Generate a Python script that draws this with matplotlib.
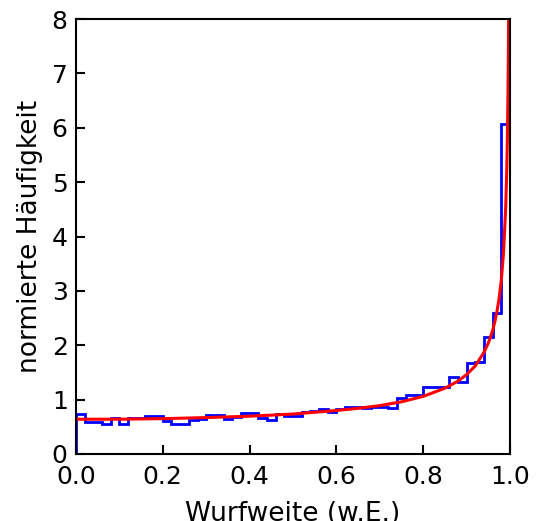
import numpy as np
import matplotlib
matplotlib.use("Agg")
import matplotlib.pyplot as plt

# histogram (normalised density), 50 bins on [0, 1]
bin_edges = np.linspace(0.0, 1.0, 51)
density = [0.73, 0.59, 0.59, 0.56, 0.67, 0.55, 0.66, 0.66, 0.70, 0.70,
           0.61, 0.55, 0.55, 0.62, 0.64, 0.71, 0.71, 0.64, 0.68, 0.76,
           0.76, 0.67, 0.63, 0.74, 0.69, 0.69, 0.77, 0.79, 0.83, 0.77,
           0.83, 0.86, 0.86, 0.85, 0.87, 0.87, 0.84, 1.03, 1.08, 1.08,
           1.23, 1.23, 1.24, 1.41, 1.32, 1.68, 1.70, 2.16, 2.60, 6.06]

# red curve, points
curve_x = [0.0, 0.1, 0.2, 0.3, 0.4, 0.5, 0.6, 0.65, 0.7, 0.75, 0.8, 0.85,
           0.88, 0.9, 0.92, 0.94, 0.95, 0.955, 0.96, 0.965, 0.97, 0.975,
           0.98, 0.985, 0.99, 0.9925, 0.994, 0.995, 0.996, 0.997]
curve_y = [0.64, 0.64, 0.65, 0.67, 0.695, 0.735, 0.80, 0.84, 0.89, 0.96,
           1.06, 1.21, 1.34, 1.46, 1.62, 1.87, 2.04, 2.15, 2.27, 2.43,
           2.62, 2.87, 3.20, 3.69, 4.51, 5.21, 5.82, 6.38, 7.12, 8.22]

fig = plt.figure(figsize=(5.44, 5.21), dpi=100)
ax = fig.add_axes([0.1397, 0.1286, 0.7978, 0.8349])

ax.stairs(density, bin_edges, color="blue", linewidth=2.0)
ax.plot(curve_x, curve_y, color="red", linewidth=2.2)

ax.set_xlim(0, 1)
ax.set_ylim(0, 8)
ax.set_xticks([0.0, 0.2, 0.4, 0.6, 0.8, 1.0])
ax.set_yticks(range(0, 9))
ax.tick_params(direction="in", length=6.5, width=1.5, labelsize=18)
ax.tick_params(axis="x", pad=8)
ax.tick_params(axis="y", pad=6)
for s in ax.spines.values():
    s.set_linewidth(1.5)

ax.set_xlabel("Wurfweite (w.E.)", fontsize=19, labelpad=8.5)
ax.set_ylabel("normierte Häufigkeit", fontsize=19, labelpad=6)

fig.savefig("out.png", dpi=100)
